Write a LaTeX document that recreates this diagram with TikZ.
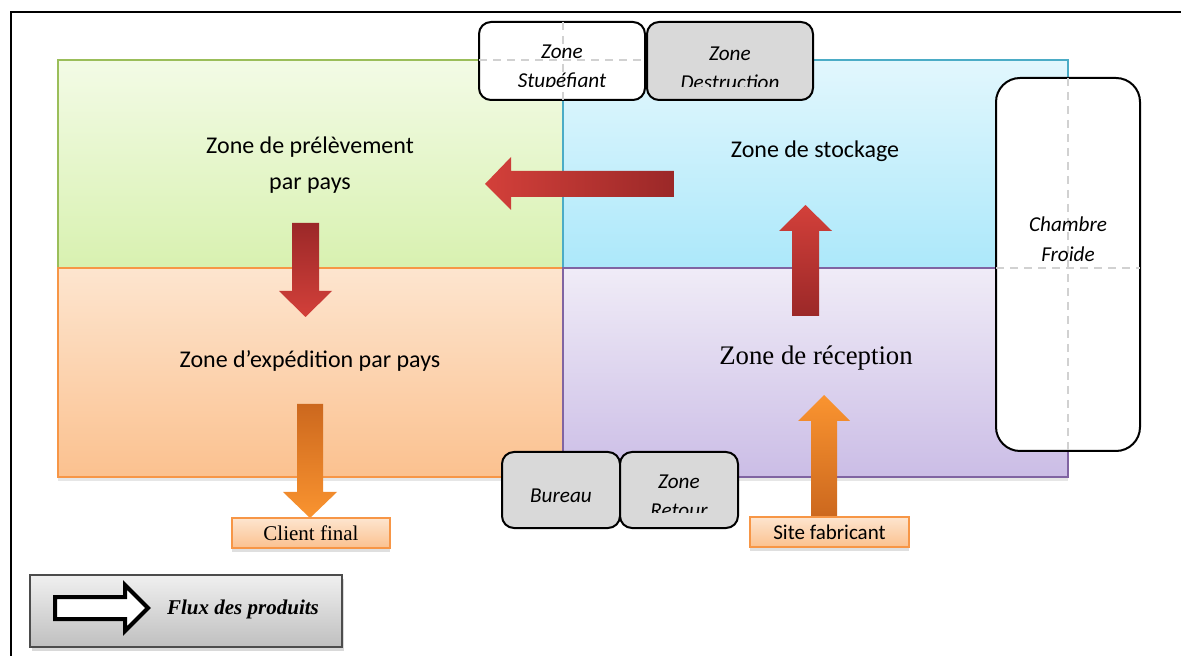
\documentclass[tikz,border=0pt]{standalone}
\usepackage{fontspec}
\setmainfont{Carlito}
\newfontfamily\timesfont{Liberation Serif}
\usetikzlibrary{fit,shadows}

\definecolor{greentop}{RGB}{243,251,230}
\definecolor{greenbot}{RGB}{216,241,176}
\definecolor{greenline}{RGB}{155,190,90}
\definecolor{bluetop}{RGB}{226,247,253}
\definecolor{bluebot}{RGB}{172,232,250}
\definecolor{blueline}{RGB}{75,172,198}
\definecolor{orangetop}{RGB}{253,229,207}
\definecolor{orangebot}{RGB}{251,193,143}
\definecolor{orangeline}{RGB}{247,150,70}
\definecolor{purpletop}{RGB}{240,236,247}
\definecolor{purplebot}{RGB}{203,189,230}
\definecolor{purpleline}{RGB}{128,100,162}
\definecolor{redlight}{RGB}{211,64,58}
\definecolor{reddark}{RGB}{155,40,40}
\definecolor{orangelight}{RGB}{250,148,48}
\definecolor{orangedark}{RGB}{204,104,30}
\definecolor{roomgray}{RGB}{217,217,217}

\tikzset{
  zone/.style={draw, line width=1pt, inner sep=0pt,
    drop shadow={opacity=0.2, shadow xshift=0pt, shadow yshift=-2pt}},
  room/.style={draw=black, line width=1pt, rounded corners=6pt, inner sep=0pt},
  guide/.style={draw=black!18, line width=0.8pt, dash pattern=on 4pt off 3pt},
  ztext/.style={font=\fontsize{12}{18}\selectfont, align=center},
  rtext/.style={font=\fontsize{10.6}{14.5}\selectfont\itshape, align=center},
  endbox/.style={draw=orangeline, line width=0.8pt, inner sep=0pt,
    top color=orangetop, bottom color=orangebot,
    drop shadow={opacity=0.25, shadow xshift=0pt, shadow yshift=-2pt}},
}

\begin{document}
\begin{tikzpicture}[x=0.5pt,y=-0.5pt]
  \useasboundingbox (0,0) rectangle (1181,656);
  % cadre
  \draw[line width=1pt] (11,656) |- (1181,12);

  % zones
  \node[zone, draw=greenline, top color=greentop, bottom color=greenbot, fit={(58,60) (563,268)}] (prelev) {};
  \node[zone, draw=blueline, top color=bluetop, bottom color=bluebot, fit={(563,60) (1068,268)}] (stock) {};
  \node[zone, draw=orangeline, top color=orangetop, bottom color=orangebot, fit={(58,268) (563,477)}] (exped) {};
  \node[zone, draw=purpleline, top color=purpletop, bottom color=purplebot, fit={(563,268) (1068,477)}] (recep) {};

  \node[ztext] (tprelev) at (310,165.5) {Zone de prélèvement\\par pays};
  \node[ztext] (tstock) at (815,151) {Zone de stockage};
  \node[ztext] (texped) at (310,361) {Zone d’expédition par pays};
  \node[font=\timesfont\fontsize{13.4}{15}\selectfont] (trecep) at (816,358) {Zone de réception};

  % fleches
  \shade[left color=redlight, right color=reddark] (674,171) -- (511,171) -- (511,157) -- (485,184) -- (511,210) -- (511,197) -- (674,197) -- cycle;
  \shade[top color=reddark, bottom color=redlight] (292,223) -- (292,291) -- (279,291) -- (305.5,317) -- (332,291) -- (319,291) -- (319,223) -- cycle;
  \shade[top color=redlight, bottom color=reddark] (792,316) -- (792,231) -- (779,231) -- (805.5,205) -- (832,231) -- (819,231) -- (819,316) -- cycle;
  \shade[top color=orangedark, bottom color=orangelight] (297,404) -- (297,492) -- (283,492) -- (310,518) -- (337,492) -- (323,492) -- (323,404) -- cycle;
  \shade[top color=orangelight, bottom color=orangedark] (811,517) -- (811,421) -- (798,421) -- (824,395) -- (850,421) -- (837,421) -- (837,517) -- cycle;

  % locaux
  \node[room, fill=white, fit={(479,22) (645,100)}] (stup) {};
  \node[room, fill=roomgray, fit={(647,22) (813,100)}] (destr) {};
  \draw[guide] (563,22) -- (563,100);
  \draw[guide] (479,60) -- (645,60);
  \begin{scope}
    \clip (479,22) rectangle (813,87);
    \node[rtext] (tstup) at (562,68) {Zone\\Stupéfiant};
    \node[rtext] (tdestr) at (730,68) {Zone\\Destruction};
  \end{scope}

  \node[room, rounded corners=12pt, fill=white, fit={(996,78) (1140,451)}] (froid) {};
  \draw[guide] (1068,78) -- (1068,451);
  \draw[guide] (996,268) -- (1140,268);
  \node[rtext, font=\fontsize{10.6}{15}\selectfont\itshape] (tfroid) at (1068,239) {Chambre\\Froide};

  \node[room, fill=roomgray, fit={(502,452) (620,528)}] (bureau) {};
  \node[room, fill=roomgray, fit={(620,452) (738,528)}] (retour) {};
  \node[rtext] (tbureau) at (561,496) {Bureau};
  \begin{scope}
    \clip (620,452) rectangle (738,513);
    \node[rtext] (tretour) at (679,496) {Zone\\Retour};
  \end{scope}

  % client et fabricant
  \node[endbox, fit={(232,518) (390,548)}] (client) {};
  \node[font=\timesfont\fontsize{10.5}{12}\selectfont] at (client) {Client final};
  \node[endbox, fit={(750,517) (909,547)}] (fabric) {};
  \node[font=\fontsize{10.5}{12}\selectfont] at (fabric) {Site fabricant};

  % legende
  \node[draw=black!70, line width=0.8pt, inner sep=0pt, top color=black!6, bottom color=black!25,
    drop shadow={opacity=0.3, shadow xshift=1pt, shadow yshift=-2pt}, fit={(30,575) (342,647)}] (legend) {};
  \draw[line width=2pt, fill=white, line join=miter] (55,597) -- (125,597) -- (125,585) -- (148,608) -- (125,631) -- (125,619) -- (55,619) -- cycle;
  \node[font=\timesfont\bfseries\itshape\fontsize{10.5}{12}\selectfont] (flux) at (243,609) {Flux des produits};
\end{tikzpicture}
\end{document}
